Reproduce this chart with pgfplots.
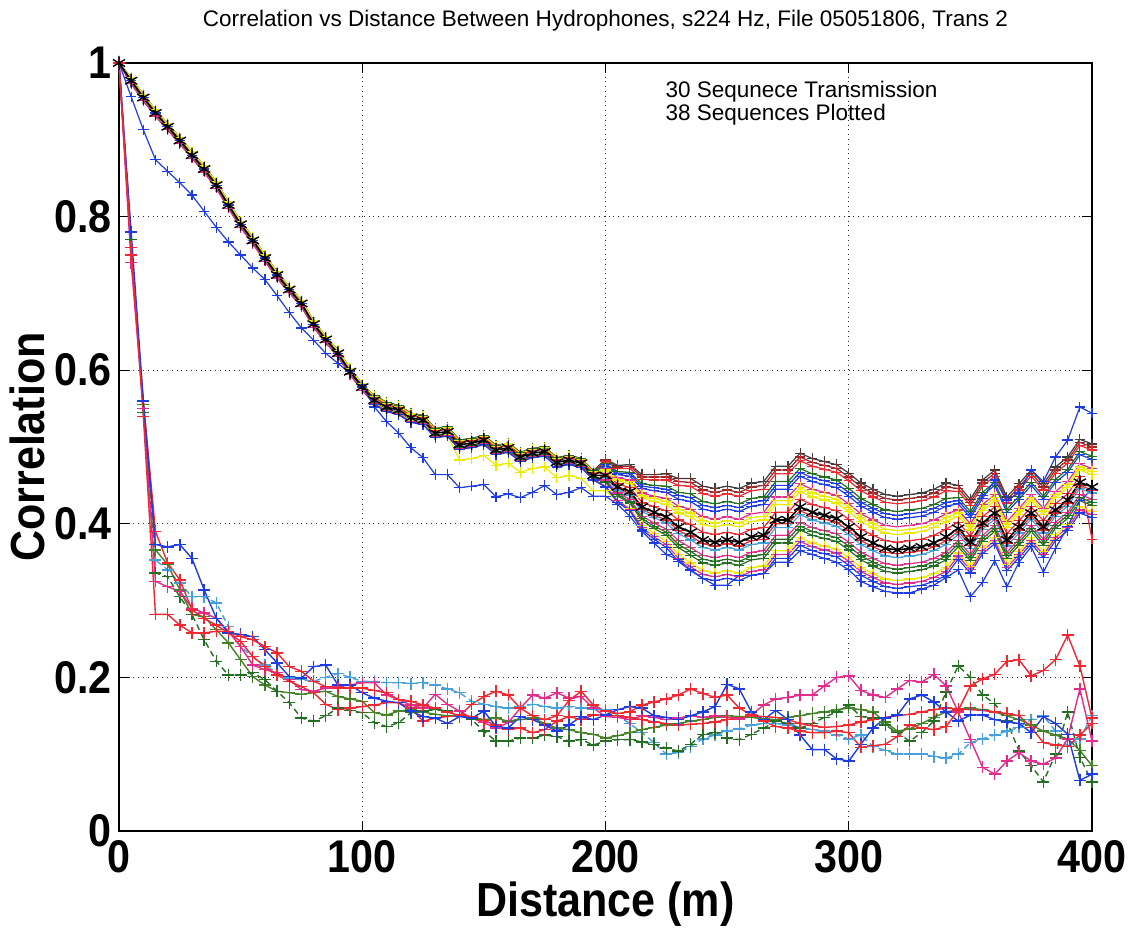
\documentclass[border=0pt]{standalone}
\usepackage{fontspec}
\setmainfont{Liberation Sans}
\newfontfamily\narrowfont[FakeStretch=0.9]{Liberation Sans}
\usepackage{pgfplots}
\usepackage{pgfplotstable}
\pgfplotsset{compat=1.18}
\definecolor{mred}{RGB}{240,40,50}
\definecolor{mpink}{RGB}{225,45,140}
\definecolor{mblue}{RGB}{30,60,225}
\definecolor{mlblue}{RGB}{70,160,220}
\definecolor{mdgreen}{RGB}{35,110,35}
\definecolor{mogreen}{RGB}{70,130,40}
\definecolor{myellow}{RGB}{235,235,0}
\definecolor{mgray}{RGB}{60,60,60}
\definecolor{mbrown}{RGB}{150,40,40}
\pgfplotsset{
  upl/.style={line width=0.6bp, mark=+, mark size=2.6bp, mark options={solid, line width=0.6bp}},
  lowl/.style={line width=0.7bp, mark=+, mark size=3bp, mark options={solid, line width=0.7bp}},
  dsh/.style={dash pattern=on 3bp off 2bp}
}
\pgfplotstableread{
d M o1 o2 o3 o4 o5 o6 o7 o8 o9 o10 o11 o12 B
0 1.000 1.000 1.000 1.000 1.000 1.000 1.000 1.000 1.000 1.000 1.000 1.000 1.000 1.000
5 0.977 0.977 0.977 0.977 0.977 0.977 0.977 0.977 0.977 0.977 0.977 0.977 0.977 0.956
10 0.955 0.955 0.955 0.955 0.955 0.955 0.955 0.955 0.955 0.955 0.955 0.955 0.955 0.913
15 0.935 0.935 0.935 0.935 0.935 0.935 0.935 0.935 0.935 0.935 0.935 0.935 0.935 0.874
20 0.917 0.917 0.917 0.917 0.917 0.917 0.917 0.917 0.917 0.917 0.917 0.917 0.917 0.859
25 0.899 0.899 0.899 0.899 0.899 0.899 0.899 0.899 0.899 0.899 0.899 0.899 0.899 0.844
30 0.880 0.880 0.880 0.880 0.880 0.880 0.880 0.880 0.880 0.880 0.880 0.880 0.880 0.828
35 0.862 0.862 0.862 0.862 0.862 0.862 0.862 0.862 0.862 0.862 0.862 0.862 0.862 0.807
40 0.841 0.841 0.841 0.841 0.841 0.841 0.841 0.841 0.841 0.841 0.841 0.841 0.841 0.786
45 0.815 0.815 0.815 0.815 0.815 0.815 0.815 0.815 0.815 0.815 0.815 0.815 0.815 0.767
50 0.790 0.790 0.790 0.790 0.790 0.790 0.790 0.790 0.790 0.790 0.790 0.790 0.790 0.750
55 0.769 0.769 0.769 0.769 0.769 0.769 0.769 0.769 0.769 0.769 0.769 0.769 0.769 0.733
60 0.746 0.746 0.746 0.746 0.746 0.746 0.746 0.746 0.746 0.746 0.746 0.746 0.746 0.718
65 0.724 0.724 0.724 0.724 0.724 0.724 0.724 0.724 0.724 0.724 0.724 0.724 0.724 0.697
70 0.705 0.705 0.705 0.705 0.705 0.705 0.705 0.705 0.705 0.705 0.705 0.705 0.705 0.675
75 0.687 0.687 0.687 0.687 0.687 0.687 0.687 0.687 0.687 0.687 0.687 0.687 0.687 0.655
80 0.660 0.660 0.660 0.660 0.660 0.660 0.660 0.660 0.660 0.660 0.660 0.660 0.660 0.639
85 0.640 0.640 0.640 0.640 0.640 0.640 0.640 0.640 0.640 0.640 0.640 0.640 0.640 0.622
90 0.622 0.622 0.622 0.622 0.622 0.622 0.622 0.622 0.622 0.622 0.622 0.622 0.622 0.609
95 0.598 0.598 0.598 0.598 0.598 0.598 0.598 0.598 0.598 0.598 0.598 0.598 0.598 0.596
100 0.578 0.578 0.578 0.578 0.578 0.578 0.578 0.578 0.578 0.578 0.578 0.578 0.578 0.581
105 0.561 0.567 0.567 0.567 0.564 0.564 0.564 0.564 0.558 0.558 0.558 0.557 0.555 0.552
110 0.552 0.558 0.558 0.558 0.555 0.555 0.555 0.555 0.549 0.549 0.549 0.548 0.546 0.533
115 0.548 0.554 0.554 0.554 0.551 0.551 0.551 0.551 0.545 0.545 0.545 0.544 0.542 0.518
120 0.538 0.544 0.544 0.544 0.541 0.541 0.541 0.541 0.535 0.535 0.535 0.534 0.532 0.499
125 0.535 0.541 0.541 0.541 0.538 0.538 0.538 0.538 0.532 0.532 0.532 0.531 0.529 0.486
130 0.518 0.524 0.524 0.524 0.521 0.521 0.521 0.521 0.515 0.515 0.515 0.514 0.512 0.464
135 0.520 0.526 0.526 0.526 0.523 0.523 0.523 0.523 0.517 0.517 0.517 0.516 0.514 0.464
140 0.503 0.509 0.509 0.509 0.506 0.506 0.506 0.506 0.500 0.500 0.500 0.483 0.497 0.447
145 0.505 0.511 0.511 0.511 0.508 0.508 0.508 0.508 0.502 0.502 0.502 0.485 0.499 0.449
150 0.509 0.515 0.515 0.515 0.512 0.512 0.512 0.512 0.506 0.506 0.506 0.489 0.503 0.451
155 0.496 0.502 0.502 0.502 0.499 0.499 0.499 0.499 0.493 0.493 0.493 0.476 0.490 0.435
160 0.499 0.505 0.505 0.505 0.502 0.502 0.502 0.502 0.496 0.496 0.496 0.479 0.493 0.439
165 0.487 0.493 0.493 0.493 0.490 0.490 0.490 0.490 0.484 0.484 0.484 0.467 0.481 0.434
170 0.492 0.498 0.498 0.498 0.495 0.495 0.495 0.495 0.489 0.489 0.489 0.472 0.486 0.441
175 0.494 0.500 0.500 0.500 0.497 0.497 0.497 0.497 0.491 0.491 0.491 0.474 0.488 0.450
180 0.480 0.486 0.486 0.486 0.483 0.483 0.483 0.483 0.477 0.477 0.477 0.460 0.474 0.438
185 0.483 0.489 0.489 0.489 0.486 0.486 0.486 0.486 0.480 0.480 0.480 0.463 0.477 0.441
190 0.479 0.485 0.485 0.485 0.482 0.482 0.482 0.482 0.476 0.476 0.476 0.459 0.473 0.447
195 0.463 0.469 0.469 0.469 0.466 0.466 0.466 0.466 0.460 0.460 0.460 0.443 0.457 0.436
200 0.463 0.484 0.481 0.478 0.475 0.472 0.469 0.466 0.460 0.457 0.454 0.443 0.448 0.436
205 0.448 0.476 0.472 0.468 0.464 0.460 0.456 0.452 0.444 0.440 0.436 0.430 0.428 0.425
210 0.442 0.477 0.472 0.467 0.462 0.457 0.452 0.447 0.437 0.432 0.427 0.420 0.417 0.410
215 0.422 0.464 0.458 0.452 0.446 0.440 0.434 0.428 0.416 0.410 0.404 0.398 0.392 0.390
220 0.415 0.464 0.457 0.450 0.443 0.436 0.429 0.422 0.408 0.401 0.394 0.387 0.380 0.375
225 0.409 0.465 0.457 0.449 0.441 0.433 0.425 0.417 0.401 0.393 0.385 0.377 0.369 0.360
230 0.396 0.459 0.450 0.441 0.432 0.423 0.414 0.405 0.387 0.378 0.369 0.360 0.351 0.353
235 0.389 0.459 0.449 0.439 0.429 0.419 0.409 0.399 0.379 0.369 0.359 0.349 0.339 0.340
240 0.379 0.449 0.439 0.429 0.419 0.409 0.399 0.389 0.369 0.359 0.349 0.339 0.329 0.329
245 0.376 0.446 0.436 0.426 0.416 0.406 0.396 0.386 0.366 0.356 0.346 0.336 0.326 0.320
250 0.379 0.449 0.439 0.429 0.419 0.409 0.399 0.389 0.369 0.359 0.349 0.339 0.329 0.320
255 0.376 0.446 0.436 0.426 0.416 0.406 0.396 0.386 0.366 0.356 0.346 0.336 0.326 0.333
260 0.383 0.453 0.443 0.433 0.423 0.413 0.403 0.393 0.373 0.363 0.353 0.343 0.333 0.333
265 0.385 0.455 0.445 0.435 0.425 0.415 0.405 0.395 0.375 0.365 0.355 0.345 0.335 0.335
270 0.405 0.475 0.465 0.455 0.445 0.435 0.425 0.415 0.395 0.385 0.375 0.365 0.355 0.350
275 0.405 0.475 0.465 0.455 0.445 0.435 0.425 0.415 0.395 0.385 0.375 0.365 0.355 0.350
280 0.422 0.492 0.482 0.472 0.462 0.452 0.442 0.432 0.412 0.402 0.392 0.382 0.372 0.365
285 0.415 0.485 0.475 0.465 0.455 0.445 0.435 0.425 0.405 0.395 0.385 0.375 0.365 0.360
290 0.411 0.481 0.471 0.461 0.451 0.441 0.431 0.421 0.401 0.391 0.381 0.371 0.361 0.355
295 0.407 0.477 0.467 0.457 0.447 0.437 0.427 0.417 0.397 0.387 0.377 0.367 0.357 0.350
300 0.396 0.466 0.456 0.446 0.436 0.426 0.416 0.406 0.386 0.376 0.366 0.356 0.346 0.340
305 0.383 0.453 0.443 0.433 0.423 0.413 0.403 0.393 0.373 0.363 0.353 0.343 0.333 0.325
310 0.375 0.445 0.435 0.425 0.415 0.405 0.395 0.385 0.365 0.355 0.345 0.335 0.325 0.318
315 0.368 0.438 0.428 0.418 0.408 0.398 0.388 0.378 0.358 0.348 0.338 0.328 0.318 0.312
320 0.366 0.436 0.426 0.416 0.406 0.396 0.386 0.376 0.356 0.346 0.336 0.326 0.316 0.310
325 0.368 0.438 0.428 0.418 0.408 0.398 0.388 0.378 0.358 0.348 0.338 0.328 0.318 0.310
330 0.370 0.440 0.430 0.420 0.410 0.400 0.390 0.380 0.360 0.350 0.340 0.330 0.320 0.315
335 0.375 0.445 0.435 0.425 0.415 0.405 0.395 0.385 0.365 0.355 0.345 0.335 0.325 0.320
340 0.383 0.453 0.443 0.433 0.423 0.413 0.403 0.393 0.373 0.363 0.353 0.343 0.333 0.330
345 0.394 0.450 0.442 0.434 0.426 0.418 0.410 0.402 0.386 0.378 0.370 0.362 0.354 0.340
350 0.376 0.432 0.424 0.416 0.408 0.400 0.392 0.384 0.368 0.360 0.352 0.344 0.336 0.305
355 0.401 0.457 0.449 0.441 0.433 0.425 0.417 0.409 0.393 0.385 0.377 0.369 0.361 0.324
360 0.414 0.470 0.462 0.454 0.457 0.438 0.430 0.422 0.406 0.398 0.390 0.382 0.374 0.352
365 0.379 0.435 0.427 0.419 0.431 0.403 0.395 0.387 0.371 0.363 0.355 0.347 0.339 0.318
370 0.396 0.452 0.444 0.436 0.440 0.420 0.412 0.404 0.388 0.380 0.372 0.364 0.356 0.350
375 0.414 0.470 0.462 0.454 0.470 0.438 0.430 0.422 0.406 0.398 0.390 0.382 0.374 0.370
380 0.396 0.452 0.444 0.436 0.455 0.420 0.412 0.404 0.388 0.380 0.372 0.364 0.356 0.337
385 0.418 0.474 0.466 0.458 0.487 0.442 0.434 0.426 0.410 0.402 0.394 0.386 0.378 0.368
390 0.431 0.487 0.479 0.471 0.509 0.455 0.447 0.439 0.423 0.415 0.407 0.399 0.391 0.396
395 0.454 0.510 0.502 0.494 0.552 0.478 0.470 0.462 0.446 0.438 0.430 0.422 0.414 0.430
400 0.448 0.504 0.496 0.488 0.544 0.472 0.464 0.380 0.440 0.432 0.424 0.416 0.408 0.445
}\up
\pgfplotstableread{
d n1 n2 n3 n4 n5 n6
0 1.000 1.000 1.000 1.000 1.000 1.000
5 0.981 0.981 0.981 0.973 0.973 0.973
10 0.959 0.959 0.959 0.951 0.951 0.951
15 0.939 0.939 0.939 0.931 0.931 0.931
20 0.921 0.921 0.921 0.913 0.913 0.913
25 0.903 0.903 0.903 0.895 0.895 0.895
30 0.884 0.884 0.884 0.876 0.876 0.876
35 0.866 0.866 0.866 0.858 0.858 0.858
40 0.845 0.845 0.845 0.837 0.837 0.837
45 0.819 0.819 0.819 0.811 0.811 0.811
50 0.794 0.794 0.794 0.786 0.786 0.786
55 0.773 0.773 0.773 0.765 0.765 0.765
60 0.750 0.750 0.750 0.742 0.742 0.742
65 0.728 0.728 0.728 0.720 0.720 0.720
70 0.709 0.709 0.709 0.701 0.701 0.701
75 0.691 0.691 0.691 0.683 0.683 0.683
80 0.664 0.664 0.664 0.656 0.656 0.656
85 0.644 0.644 0.644 0.636 0.636 0.636
90 0.626 0.626 0.626 0.618 0.618 0.618
95 0.602 0.602 0.602 0.594 0.594 0.594
100 0.582 0.582 0.582 0.574 0.574 0.574
105 0.566 0.566 0.566 0.556 0.556 0.556
110 0.557 0.557 0.557 0.547 0.547 0.547
115 0.553 0.553 0.553 0.543 0.543 0.543
120 0.543 0.543 0.543 0.533 0.533 0.533
125 0.540 0.540 0.540 0.530 0.530 0.530
130 0.523 0.523 0.523 0.513 0.513 0.513
135 0.525 0.525 0.525 0.515 0.515 0.515
140 0.508 0.508 0.508 0.498 0.498 0.498
145 0.510 0.510 0.510 0.500 0.500 0.500
150 0.514 0.514 0.514 0.504 0.504 0.504
155 0.501 0.501 0.501 0.491 0.491 0.491
160 0.504 0.504 0.504 0.494 0.494 0.494
165 0.492 0.492 0.492 0.482 0.482 0.482
170 0.497 0.497 0.497 0.487 0.487 0.487
175 0.499 0.499 0.499 0.489 0.489 0.489
180 0.485 0.485 0.485 0.475 0.475 0.475
185 0.488 0.488 0.488 0.478 0.478 0.478
190 0.484 0.484 0.484 0.474 0.474 0.474
195 0.468 0.468 0.468 0.458 0.458 0.458
200 0.483 0.477 0.471 0.461 0.455 0.449
205 0.474 0.466 0.458 0.446 0.438 0.430
210 0.475 0.465 0.455 0.439 0.429 0.419
215 0.461 0.449 0.437 0.419 0.407 0.395
220 0.461 0.447 0.433 0.411 0.397 0.383
225 0.461 0.445 0.429 0.405 0.389 0.373
230 0.455 0.437 0.419 0.391 0.373 0.355
235 0.454 0.434 0.414 0.384 0.364 0.344
240 0.444 0.424 0.404 0.374 0.354 0.334
245 0.441 0.421 0.401 0.371 0.351 0.331
250 0.444 0.424 0.404 0.374 0.354 0.334
255 0.441 0.421 0.401 0.371 0.351 0.331
260 0.448 0.428 0.408 0.378 0.358 0.338
265 0.450 0.430 0.410 0.380 0.360 0.340
270 0.470 0.450 0.430 0.400 0.380 0.360
275 0.470 0.450 0.430 0.400 0.380 0.360
280 0.487 0.467 0.447 0.417 0.397 0.377
285 0.480 0.460 0.440 0.410 0.390 0.370
290 0.476 0.456 0.436 0.406 0.386 0.366
295 0.472 0.452 0.432 0.402 0.382 0.362
300 0.461 0.441 0.421 0.391 0.371 0.351
305 0.448 0.428 0.408 0.378 0.358 0.338
310 0.440 0.420 0.400 0.370 0.350 0.330
315 0.433 0.413 0.393 0.363 0.343 0.323
320 0.431 0.411 0.391 0.361 0.341 0.321
325 0.433 0.413 0.393 0.363 0.343 0.323
330 0.435 0.415 0.395 0.365 0.345 0.325
335 0.440 0.420 0.400 0.370 0.350 0.330
340 0.448 0.428 0.408 0.378 0.358 0.338
345 0.446 0.430 0.414 0.390 0.374 0.358
350 0.428 0.412 0.396 0.372 0.356 0.340
355 0.453 0.437 0.421 0.397 0.381 0.365
360 0.466 0.450 0.434 0.410 0.394 0.378
365 0.431 0.415 0.399 0.375 0.359 0.343
370 0.448 0.432 0.416 0.392 0.376 0.360
375 0.466 0.450 0.434 0.410 0.394 0.378
380 0.448 0.432 0.416 0.392 0.376 0.360
385 0.470 0.454 0.438 0.414 0.398 0.382
390 0.483 0.467 0.451 0.427 0.411 0.395
395 0.506 0.490 0.474 0.450 0.434 0.418
400 0.500 0.484 0.468 0.444 0.428 0.412
}\upb
\pgfplotstableread{
d p q r s t u v
0 1.000 1.000 1.000 1.000 1.000 1.000 1.000
5 0.780 0.770 0.760 0.750 0.740 0.770 0.760
10 0.560 0.550 0.540 0.560 0.550 0.545 0.555
15 0.373 0.353 0.282 0.390 0.325 0.336 0.366
20 0.370 0.340 0.282 0.349 0.318 0.331 0.347
25 0.373 0.323 0.268 0.327 0.312 0.305 0.314
30 0.355 0.305 0.258 0.288 0.290 0.282 0.282
35 0.314 0.305 0.258 0.277 0.284 0.249 0.279
40 0.277 0.297 0.260 0.268 0.277 0.221 0.262
45 0.258 0.266 0.260 0.258 0.260 0.203 0.245
50 0.256 0.240 0.253 0.247 0.240 0.203 0.223
55 0.253 0.227 0.249 0.227 0.216 0.206 0.201
60 0.236 0.216 0.240 0.214 0.210 0.197 0.190
65 0.219 0.206 0.232 0.203 0.206 0.182 0.182
70 0.201 0.199 0.214 0.195 0.197 0.167 0.180
75 0.199 0.197 0.208 0.188 0.184 0.147 0.178
80 0.214 0.195 0.195 0.180 0.182 0.143 0.180
85 0.216 0.200 0.188 0.165 0.186 0.150 0.182
90 0.190 0.205 0.186 0.158 0.188 0.160 0.175
95 0.190 0.200 0.186 0.160 0.190 0.157 0.172
100 0.180 0.195 0.186 0.162 0.193 0.154 0.169
105 0.173 0.195 0.183 0.164 0.193 0.141 0.154
110 0.169 0.193 0.180 0.167 0.177 0.136 0.151
115 0.167 0.193 0.171 0.167 0.171 0.141 0.156
120 0.156 0.192 0.169 0.160 0.164 0.154 0.158
125 0.149 0.193 0.164 0.143 0.160 0.156 0.155
130 0.147 0.190 0.160 0.147 0.178 0.158 0.152
135 0.140 0.185 0.155 0.149 0.165 0.156 0.150
140 0.149 0.180 0.150 0.151 0.156 0.150 0.150
145 0.147 0.169 0.165 0.149 0.147 0.145 0.148
150 0.156 0.165 0.175 0.144 0.141 0.130 0.145
155 0.136 0.162 0.182 0.138 0.134 0.117 0.147
160 0.134 0.160 0.177 0.132 0.141 0.117 0.143
165 0.149 0.162 0.160 0.134 0.160 0.121 0.145
170 0.145 0.165 0.150 0.128 0.177 0.121 0.147
175 0.138 0.162 0.145 0.132 0.173 0.125 0.140
180 0.130 0.160 0.150 0.143 0.180 0.123 0.134
185 0.138 0.162 0.170 0.149 0.173 0.117 0.132
190 0.149 0.160 0.182 0.145 0.175 0.119 0.128
195 0.145 0.158 0.164 0.151 0.160 0.112 0.126
200 0.151 0.158 0.156 0.151 0.149 0.117 0.121
205 0.158 0.150 0.153 0.150 0.148 0.119 0.124
210 0.162 0.140 0.155 0.148 0.145 0.119 0.128
215 0.160 0.128 0.164 0.145 0.150 0.116 0.132
220 0.150 0.115 0.168 0.142 0.148 0.113 0.135
225 0.148 0.100 0.172 0.140 0.145 0.108 0.138
230 0.145 0.102 0.177 0.138 0.147 0.104 0.140
235 0.150 0.110 0.185 0.139 0.150 0.113 0.143
240 0.155 0.120 0.179 0.140 0.148 0.126 0.145
245 0.162 0.125 0.174 0.142 0.150 0.128 0.148
250 0.191 0.130 0.177 0.145 0.148 0.121 0.150
255 0.185 0.133 0.160 0.148 0.146 0.119 0.149
260 0.155 0.138 0.151 0.150 0.151 0.126 0.148
265 0.145 0.140 0.143 0.149 0.164 0.134 0.146
270 0.157 0.140 0.136 0.148 0.172 0.143 0.145
275 0.145 0.138 0.134 0.145 0.174 0.140 0.148
280 0.125 0.135 0.130 0.140 0.177 0.134 0.150
285 0.106 0.132 0.128 0.137 0.177 0.140 0.153
290 0.106 0.130 0.128 0.135 0.189 0.148 0.155
295 0.094 0.125 0.130 0.136 0.200 0.155 0.158
300 0.091 0.120 0.128 0.138 0.202 0.164 0.160
305 0.113 0.125 0.109 0.142 0.183 0.149 0.158
310 0.134 0.110 0.111 0.145 0.177 0.147 0.155
315 0.147 0.105 0.113 0.148 0.174 0.138 0.142
320 0.151 0.100 0.123 0.150 0.185 0.128 0.130
325 0.172 0.100 0.138 0.152 0.196 0.117 0.133
330 0.177 0.100 0.134 0.155 0.194 0.128 0.140
335 0.168 0.097 0.132 0.158 0.204 0.143 0.148
340 0.155 0.095 0.136 0.160 0.189 0.181 0.155
345 0.143 0.100 0.157 0.159 0.155 0.215 0.158
350 0.151 0.115 0.189 0.158 0.119 0.200 0.160
355 0.151 0.120 0.198 0.157 0.083 0.177 0.158
360 0.145 0.125 0.204 0.155 0.074 0.166 0.155
365 0.142 0.130 0.221 0.153 0.091 0.143 0.150
370 0.140 0.135 0.223 0.150 0.102 0.104 0.145
375 0.128 0.145 0.202 0.135 0.091 0.085 0.138
380 0.149 0.150 0.209 0.115 0.087 0.064 0.130
385 0.140 0.130 0.223 0.112 0.095 0.100 0.125
390 0.126 0.110 0.255 0.110 0.120 0.155 0.120
395 0.066 0.120 0.215 0.125 0.185 0.096 0.105
400 0.074 0.150 0.147 0.140 0.117 0.064 0.085
}\low
\begin{document}
\begin{tikzpicture}
\begin{axis}[
  name=ax,
  width=486.5bp, height=384bp, scale only axis,
  xmin=0, xmax=400, ymin=0, ymax=1,
  xtick={0,100,200,300,400}, xticklabels={0,100,200,300,400},
  ytick={0,0.2,0.4,0.6,0.8,1}, yticklabels={0,0.2,0.4,0.6,0.8,1},
  grid=major,
  major grid style={black!85, line width=0.4bp, dash pattern=on 0.4bp off 2bp},
  axis line style={line width=0.8bp, black},
  tick style={line width=0.6bp, black},
  major tick length=5bp,
  tick align=inside,
  tick label style={font=\narrowfont\bfseries\fontsize{23}{23}\selectfont, inner sep=0pt},
  xticklabel style={anchor=north, yshift=-4.5bp},
  yticklabel style={anchor=east, xshift=-3.5bp},
  clip=false,
]
\addplot[color=mgray, upl] table[x=d, y=o1]{\up};
\addplot[color=mbrown, upl] table[x=d, y=n1]{\upb};
\addplot[color=mred, upl] table[x=d, y=o2]{\up};
\addplot[color=mblue, upl] table[x=d, y=n2]{\upb};
\addplot[color=mdgreen, upl] table[x=d, y=o3]{\up};
\addplot[color=mblue, upl] table[x=d, y=o4]{\up};
\addplot[color=mpink, upl] table[x=d, y=o5]{\up};
\addplot[color=myellow, upl] table[x=d, y=n3]{\upb};
\addplot[color=myellow, upl] table[x=d, y=o6]{\up};
\addplot[color=mred, upl] table[x=d, y=o7]{\up};
\addplot[color=mred, upl] table[x=d, y=n4]{\upb};
\addplot[color=mlblue, upl] table[x=d, y=o8]{\up};
\addplot[color=mpink, upl] table[x=d, y=o9]{\up};
\addplot[color=mdgreen, upl] table[x=d, y=n5]{\upb};
\addplot[color=mdgreen, upl] table[x=d, y=o10]{\up};
\addplot[color=myellow, upl] table[x=d, y=o11]{\up};
\addplot[color=mpink, upl] table[x=d, y=n6]{\upb};
\addplot[color=mblue, upl] table[x=d, y=o12]{\up};
\addplot[color=mblue, upl] table[x=d, y=B]{\up};
\addplot[color=mlblue, lowl, dsh] table[x=d, y=q]{\low};
\addplot[color=mogreen, lowl] table[x=d, y=v]{\low};
\addplot[color=mdgreen, lowl, dsh] table[x=d, y=u]{\low};
\addplot[color=mpink, lowl] table[x=d, y=t]{\low};
\addplot[color=mred, lowl] table[x=d, y=s]{\low};
\addplot[color=mblue, lowl] table[x=d, y=p]{\low};
\addplot[color=mred, lowl] table[x=d, y=r]{\low};
\addplot[color=black, line width=0.8bp, mark=asterisk, mark size=3.5bp, mark options={solid, line width=0.7bp}] table[x=d, y=M]{\up};
\node[anchor=west, inner sep=0pt, font=\fontsize{11.3}{11.3}\selectfont] at (axis cs:224.5,0.962) {30 Sequnece Transmission};
\node[anchor=west, inner sep=0pt, font=\fontsize{11.3}{11.3}\selectfont] at (axis cs:224.5,0.933) {38 Sequences Plotted};
\end{axis}
\node[anchor=base, inner sep=0pt, font=\fontsize{11.3}{11.3}\selectfont] at ([yshift=18bp]ax.north) {Correlation vs Distance Between Hydrophones, s224 Hz, File 05051806, Trans 2};
\node[anchor=north, inner sep=0pt, font=\narrowfont\bfseries\fontsize{24}{24}\selectfont] at ([yshift=-25bp]ax.south) {Distance (m)};
\node[anchor=south, rotate=90, inner sep=0pt, font=\narrowfont\bfseries\fontsize{24}{24}\selectfont] at ([xshift=-37bp]ax.west) {Correlation};
\pgfresetboundingbox
\path[use as bounding box] ([xshift=-59.5bp,yshift=-49bp]ax.south west) rectangle ([xshift=20.5bp,yshift=31.5bp]ax.north east);
\end{tikzpicture}
\end{document}
